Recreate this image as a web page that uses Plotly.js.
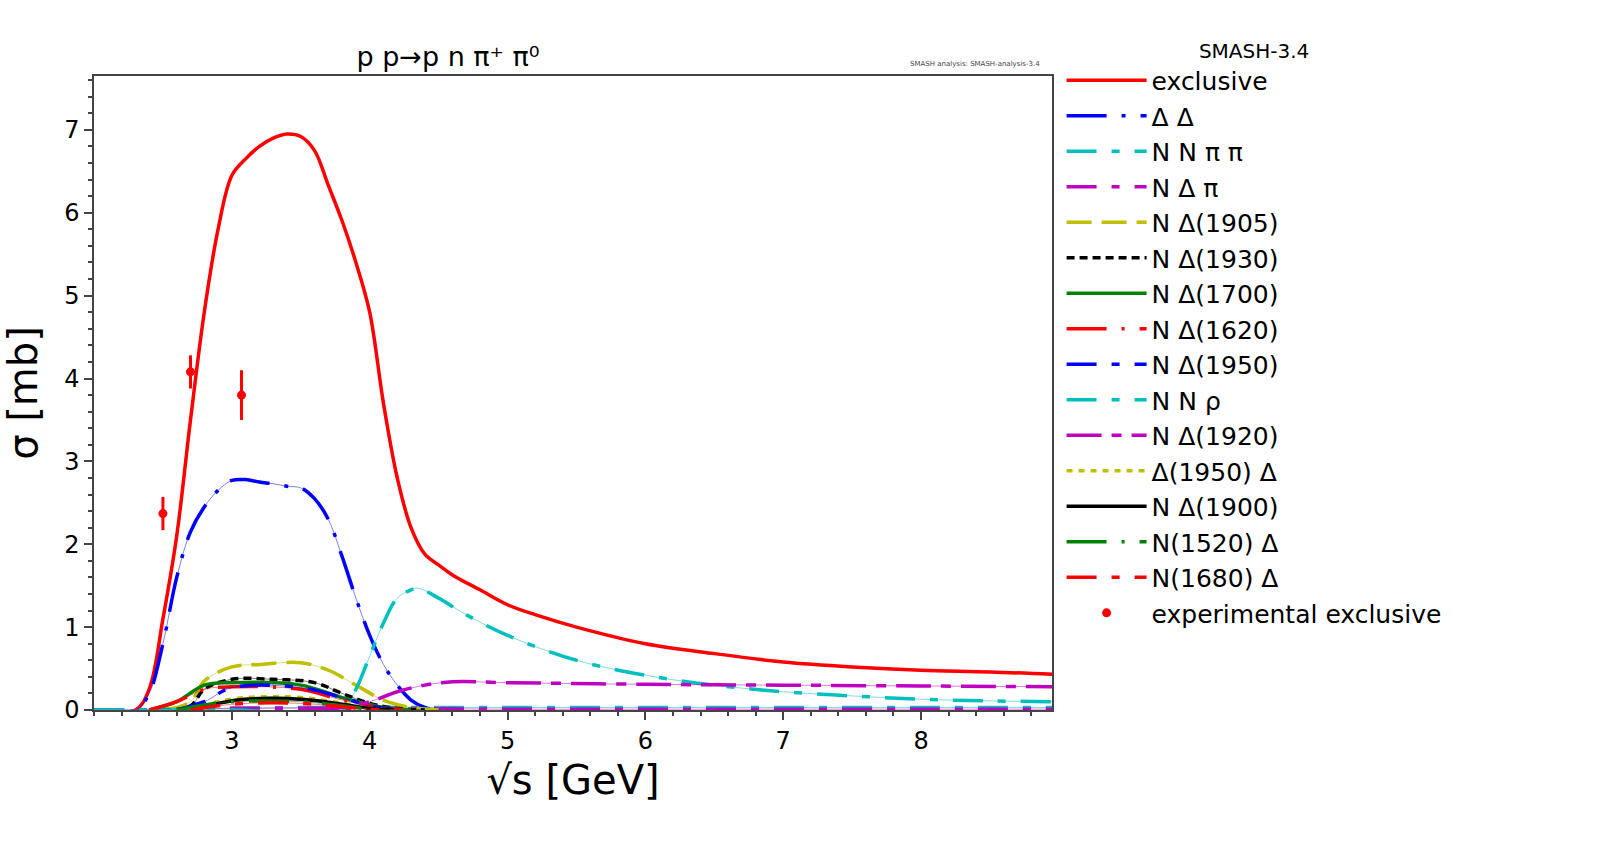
<!DOCTYPE html>
<html>
<head>
<meta charset="utf-8">
<script src="https://cdn.plot.ly/plotly-3.0.1.min.js"></script>
<style>body{margin:0;background:#fff}#plot{width:1600px;height:849px}</style>
</head>
<body>
<div id="plot"></div>
<script>
// channel curves: [sqrt(s) GeV], [sigma mb]
var exclX = [2.0, 2.3, 2.4, 2.5, 2.6, 2.7, 2.8, 2.9, 3.0, 3.1, 3.2, 3.3, 3.4, 3.5, 3.6, 3.7, 3.8, 3.9, 4.0, 4.1, 4.2, 4.3, 4.4, 4.5, 4.6, 4.8, 5.0, 5.2, 5.5, 6.0, 6.5, 7.0, 7.5, 8.0, 8.5, 8.95];
var exclY = [0, 0, 0.25, 1.1, 2.1, 3.5, 4.8, 5.8, 6.45, 6.65, 6.8, 6.9, 6.95, 6.92, 6.75, 6.33, 5.9, 5.4, 4.8, 3.7, 2.8, 2.2, 1.88, 1.75, 1.63, 1.45, 1.27, 1.15, 1.0, 0.8, 0.68, 0.58, 0.52, 0.48, 0.46, 0.43];
var ddX = [2.0, 2.3, 2.4, 2.5, 2.6, 2.7, 2.8, 2.9, 3.0, 3.1, 3.2, 3.3, 3.4, 3.5, 3.6, 3.7, 3.8, 3.9, 4.0, 4.1, 4.2, 4.3, 4.4, 4.5];
var ddY = [0, 0, 0.2, 0.8, 1.6, 2.15, 2.45, 2.65, 2.77, 2.78, 2.75, 2.73, 2.7, 2.68, 2.55, 2.3, 1.85, 1.35, 0.9, 0.55, 0.3, 0.12, 0.03, 0];
var nnppX = [2.0, 2.3, 2.6, 3.0, 3.5, 4.0, 5.0, 6.0, 7.0, 8.0, 8.95];
var nnppY = [0, 0, 0.01, 0.02, 0.03, 0.03, 0.03, 0.03, 0.03, 0.03, 0.03];
var ndpX = [2.0, 2.3, 2.6, 3.0, 4.0, 5.0, 6.0, 7.0, 8.0, 8.95];
var ndpY = [0, 0, 0.01, 0.02, 0.02, 0.01, 0.01, 0.01, 0.01, 0.01];
var nd1905X = [2.5, 2.7, 2.8, 3.0, 3.2, 3.5, 3.7, 3.9, 4.1, 4.3, 4.5];
var nd1905Y = [0, 0.1, 0.35, 0.52, 0.55, 0.57, 0.48, 0.3, 0.12, 0.03, 0];
var nd1930X = [2.5, 2.7, 2.8, 3.0, 3.3, 3.6, 3.8, 4.0, 4.2, 4.4];
var nd1930Y = [0, 0.05, 0.25, 0.37, 0.37, 0.33, 0.2, 0.08, 0.02, 0];
var nd1700X = [2.4, 2.6, 2.8, 3.0, 3.5, 3.8, 4.1, 4.3];
var nd1700Y = [0, 0.1, 0.3, 0.33, 0.3, 0.15, 0.03, 0];
var nd1620X = [2.4, 2.6, 2.8, 3.0, 3.5, 3.8, 4.1, 4.3];
var nd1620Y = [0, 0.1, 0.25, 0.28, 0.25, 0.12, 0.02, 0];
var nd1950X = [2.6, 2.8, 3.0, 3.5, 3.8, 4.0, 4.2];
var nd1950Y = [0, 0.1, 0.27, 0.27, 0.15, 0.05, 0];
var nnrhoX = [2.0, 3.0, 3.8, 3.9, 4.0, 4.1, 4.2, 4.3, 4.35, 4.5, 4.7, 5.0, 5.5, 6.0, 6.5, 7.0, 7.5, 8.0, 8.5, 8.95];
var nnrhoY = [0, 0, 0, 0.25, 0.65, 1.05, 1.35, 1.45, 1.47, 1.35, 1.15, 0.9, 0.6, 0.42, 0.3, 0.22, 0.17, 0.13, 0.11, 0.1];
var nd1920X = [3.6, 3.8, 4.0, 4.2, 4.4, 4.6, 5.0, 6.0, 7.0, 8.0, 8.95];
var nd1920Y = [0, 0.03, 0.1, 0.22, 0.3, 0.34, 0.33, 0.31, 0.3, 0.29, 0.28];
var d1950dX = [2.7, 2.9, 3.1, 3.5, 3.8, 4.0, 4.2];
var d1950dY = [0, 0.1, 0.15, 0.15, 0.08, 0.02, 0];
var nd1900X = [2.7, 2.9, 3.1, 3.5, 3.8, 4.0, 4.2];
var nd1900Y = [0, 0.08, 0.13, 0.13, 0.07, 0.02, 0];
var n1520dX = [2.6, 2.8, 3.0, 3.5, 3.8, 4.0, 4.2];
var n1520dY = [0, 0.06, 0.1, 0.1, 0.05, 0.01, 0];
var n1680dX = [2.7, 2.9, 3.1, 3.5, 3.8, 4.0, 4.2];
var n1680dY = [0, 0.05, 0.08, 0.08, 0.04, 0.01, 0];
var expX = [2.5, 2.7, 3.07];
var expY = [2.37, 4.08, 3.8];
var expErr = [0.2, 0.2, 0.3];

var channels = [
  ['exclusive', exclX, exclY, 'red', 'solid'],
  ['\u0394 \u0394', ddX, ddY, 'blue', '40px,15px,4px,15px'],
  ['N N \u03c0 \u03c0', nnppX, nnppY, '#00bfbf', '30px,15px,8px,15px'],
  ['N \u0394 \u03c0', ndpX, ndpY, '#bf00bf', '30px,15px,8px,15px'],
  ['N \u0394(1905)', nd1905X, nd1905Y, '#bfbf00', '25px,10px'],
  ['N \u0394(1930)', nd1930X, nd1930Y, 'black', '8px,5px'],
  ['N \u0394(1700)', nd1700X, nd1700Y, 'green', 'solid'],
  ['N \u0394(1620)', nd1620X, nd1620Y, 'red', '40px,15px,3px,15px'],
  ['N \u0394(1950)', nd1950X, nd1950Y, 'blue', '30px,15px,8px,15px'],
  ['N N \u03c1', nnrhoX, nnrhoY, '#00bfbf', '30px,15px,8px,15px'],
  ['N \u0394(1920)', nd1920X, nd1920Y, '#bf00bf', '35px,10px,10px,10px'],
  ['\u0394(1950) \u0394', d1950dX, d1950dY, '#bfbf00', '6px,6px'],
  ['N \u0394(1900)', nd1900X, nd1900Y, 'black', 'solid'],
  ['N(1520) \u0394', n1520dX, n1520dY, 'green', '40px,15px,3px,15px'],
  ['N(1680) \u0394', n1680dX, n1680dY, 'red', '30px,15px,8px,15px']
];

var data = [];
channels.forEach(function(c) {
  // thin connecting line under the dashes
  data.push({x: c[1], y: c[2], type: 'scatter', mode: 'lines', showlegend: false, hoverinfo: 'skip',
    line: {color: c[3], width: 1, shape: 'spline'}, opacity: 0.5});
  data.push({x: c[1], y: c[2], type: 'scatter', mode: 'lines', name: c[0],
    line: {color: c[3], width: 3.5, dash: c[4], shape: 'spline'}});
});
data.push({x: expX, y: expY, type: 'scatter', mode: 'markers', name: 'experimental exclusive',
  marker: {color: 'red', size: 9},
  error_y: {type: 'data', array: expErr, color: 'red', thickness: 3, width: 0}});

var layout = {
  width: 1600, height: 849,
  font: {family: 'DejaVu Sans', color: 'black'},
  paper_bgcolor: 'white', plot_bgcolor: 'white',
  margin: {l: 94, r: 548, t: 76, b: 139, autoexpand: false},
  title: {text: 'p p\u2192p n \u03c0\u207a \u03c0\u2070', font: {size: 27}, x: 0.28, xanchor: 'center', y: 0.945},
  xaxis: {
    range: [2.0, 8.95], tickvals: [3, 4, 5, 6, 7, 8], ticks: 'outside', ticklen: 8, tickwidth: 1.5,
    tickfont: {size: 24}, showgrid: false, zeroline: false, showline: true, mirror: true, linewidth: 1.5,
    minor: {dtick: 0.2, ticks: 'outside', ticklen: 4},
    title: {text: '\u221as [GeV]', font: {size: 40}, standoff: 12}
  },
  yaxis: {
    range: [0, 7.65], dtick: 1, ticks: 'outside', ticklen: 8, tickwidth: 1.5,
    tickfont: {size: 24}, showgrid: false, zeroline: false, showline: true, mirror: true, linewidth: 1.5,
    minor: {dtick: 0.2, ticks: 'outside', ticklen: 4},
    title: {text: '\u03c3 [mb]', font: {size: 40}, standoff: 20}
  },
  legend: {
    x: 1.01, y: 1.07, xanchor: 'left', yanchor: 'top', font: {size: 25},
    title: {text: 'SMASH-3.4', font: {size: 20}, side: 'top center'},
    itemwidth: 80, tracegroupgap: 0, bgcolor: 'rgba(0,0,0,0)', maxheight: 849
  },
  annotations: [{
    text: 'SMASH analysis: SMASH-analysis-3.4', xref: 'paper', yref: 'paper', x: 0.99, y: 1.01,
    xanchor: 'right', yanchor: 'bottom', showarrow: false, font: {size: 7, color: '#444'}
  }]
};

Plotly.newPlot('plot', data, layout, {displayModeBar: false});
</script>
</body>
</html>
